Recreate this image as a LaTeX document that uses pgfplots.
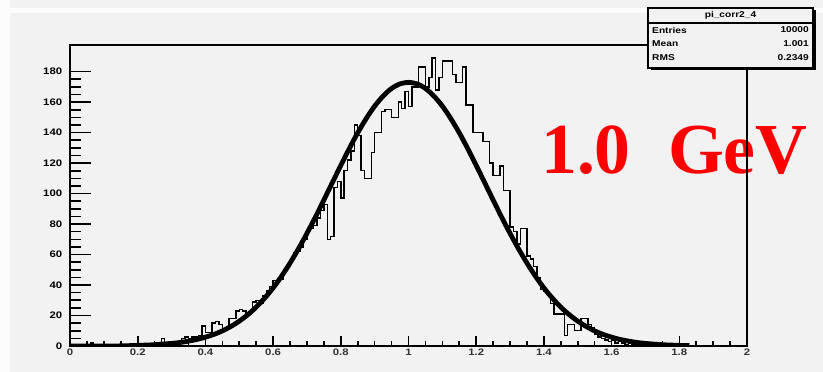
\documentclass[border=0pt]{standalone}
\usepackage{fontspec}
\setmainfont{Liberation Serif}
\setsansfont{Liberation Sans}
\usepackage{pgfplots}
\pgfplotsset{compat=1.18}
\definecolor{canvas}{HTML}{F2F2F2}
\definecolor{rootred}{HTML}{FF0000}
\begin{document}
\begin{tikzpicture}
\path[use as bounding box] (0bp,0bp) rectangle (823bp,372bp);
\begin{scope}[x=1bp,y=1bp]
\fill[white!99!black] (0,0) rectangle (823,372);
\fill[canvas] (10,0) rectangle (823,359);
\fill[canvas] (10,364) rectangle (823,372);
\node[anchor=base west, text=rootred, inner sep=0pt, font=\fontsize{72}{78}\selectfont\bfseries] at (541,199) {1.0\hspace{0.52em}GeV};
\end{scope}
\begin{axis}[
  at={(70bp,26bp)}, anchor=south west,
  width=677bp, height=301bp, scale only axis,
  xmin=0, xmax=2, ymin=0, ymax=197.5,
  axis line style={line width=1.4bp, black},
  tick align=inside, tick pos=left,
  xtick={0,0.2,0.4,0.6,0.8,1,1.2,1.4,1.6,1.8,2},
  xticklabels={0,0.2,0.4,0.6,0.8,1,1.2,1.4,1.6,1.8,2},
  ytick={0,20,40,60,80,100,120,140,160,180},
  minor x tick num=3, minor y tick num=3,
  every tick/.style={black, line width=1.6bp},
  major tick style={black, line width=1.6bp},
  minor tick style={black, line width=1.6bp},
  xtick style={/pgfplots/major tick length=10bp, /pgfplots/minor tick length=5bp},
  ytick style={/pgfplots/major tick length=21bp, /pgfplots/minor tick length=11bp},
  ticklabel style={font=\sffamily\bfseries\fontsize{9.5}{10}\selectfont, xscale=1.2},
  yticklabel style={xshift=-3bp},
  xticklabel style={yshift=1bp, text=black!80},
  /pgf/number format/assume math mode=true,
]
\addplot[const plot mark left, line width=1.4bp, black] table {
x y
0.00 0
0.03 1
0.04 0
0.06 2
0.07 0
0.11 1
0.12 0
0.16 1
0.17 0
0.19 1
0.20 0
0.21 1
0.22 0
0.23 1
0.24 0
0.25 1
0.26 2
0.27 5
0.28 2
0.29 1
0.30 2
0.31 2
0.32 3
0.33 5
0.34 6
0.35 5
0.36 6
0.37 6
0.38 7
0.39 13
0.40 9
0.41 9
0.42 15
0.43 16
0.44 14
0.45 11
0.46 12
0.47 18
0.48 18
0.49 23
0.50 24
0.51 23
0.52 21
0.53 22
0.54 29
0.55 30
0.56 28
0.57 33
0.58 36
0.59 39
0.60 43
0.61 43
0.62 44
0.63 50
0.64 52
0.65 56
0.66 61
0.67 62
0.68 65
0.69 70
0.70 76
0.71 77
0.72 79
0.73 84
0.74 89
0.75 93
0.76 70
0.77 72
0.78 104
0.79 108
0.80 97
0.81 115
0.82 122
0.83 128
0.84 145
0.85 138
0.86 115
0.87 110
0.88 110
0.89 127
0.90 140
0.91 140
0.92 154
0.93 155
0.94 155
0.95 150
0.96 150
0.97 160
0.98 156
0.99 167
1.00 157
1.01 170
1.02 170
1.03 183
1.04 183
1.05 170
1.06 176
1.07 189
1.08 168
1.09 176
1.10 187
1.11 187
1.12 187
1.13 178
1.14 173
1.15 173
1.16 183
1.17 158
1.18 158
1.19 140
1.20 140
1.21 140
1.22 134
1.23 134
1.24 120
1.25 112
1.26 112
1.27 118
1.28 102
1.29 102
1.30 78
1.31 75
1.32 67
1.33 77
1.34 77
1.35 59
1.36 57
1.37 52
1.38 45
1.39 37
1.40 36
1.41 33
1.42 28
1.43 21
1.44 21
1.45 21
1.46 7
1.47 14
1.48 14
1.49 10
1.50 10
1.51 18
1.52 18
1.53 14
1.54 12
1.55 8
1.56 6
1.57 5
1.58 4
1.59 3
1.60 4
1.61 2
1.62 3
1.63 2
1.64 1
1.65 2
1.66 1
1.67 1
1.68 0
1.69 1
1.70 0
1.72 1
1.73 0
1.76 1
1.77 0
1.80 1
1.81 0
2.00 0
};
\addplot[smooth, line width=4.8bp, black] coordinates {
(0.00,0) (0.10,0) (0.15,0.08) (0.20,0.41) (0.25,0.85) (0.30,1.7) (0.325,2.3)
(0.35,3.2) (0.375,4.3) (0.40,5.8) (0.425,7.6) (0.45,9.9) (0.475,12.8)
(0.50,16.3) (0.525,20.5) (0.55,25.5) (0.575,31.4) (0.60,38.1) (0.625,45.8)
(0.65,54.4) (0.675,63.8) (0.70,73.9) (0.725,84.6) (0.75,95.8) (0.775,107.2)
(0.80,118.5) (0.825,129.5) (0.85,139.9) (0.875,149.2) (0.90,157.4) (0.925,164.0)
(0.95,169.0) (0.975,172.0) (1.00,173.0) (1.025,172.0) (1.05,169.0) (1.075,164.0)
(1.10,157.4) (1.125,149.2) (1.15,139.9) (1.175,129.5) (1.20,118.5) (1.225,107.2)
(1.25,95.8) (1.275,84.6) (1.30,73.9) (1.325,63.8) (1.35,54.4) (1.375,45.8)
(1.40,38.1) (1.425,31.4) (1.45,25.5) (1.475,20.5) (1.50,16.3) (1.525,12.8)
(1.55,9.9) (1.575,7.6) (1.60,5.8) (1.625,4.3) (1.65,3.2) (1.675,2.3)
(1.70,1.7) (1.75,0.85) (1.80,0.41) (1.83,0.25)
};
\end{axis}
\begin{scope}[x=1bp,y=1bp]
\fill[black] (650.5,301.5) rectangle (815.5,361.5);
\filldraw[fill=canvas, draw=black, line width=1.2bp] (648,304) rectangle (813,364);
\draw[line width=1.2bp] (648,349) -- (813,349);
\begin{scope}[every node/.style={inner sep=0pt, xscale=1.2, font=\sffamily\bfseries\fontsize{8.5}{9}\selectfont}]
\node at (730.5,356.5) {pi\_corr2\_4};
\node[anchor=west] at (652,342) {Entries};
\node[anchor=east] at (809,342) {10000};
\node[anchor=west] at (652,328) {Mean};
\node[anchor=east] at (809,328) {1.001};
\node[anchor=west] at (652,314) {RMS};
\node[anchor=east] at (809,314) {0.2349};
\end{scope}
\end{scope}
\end{tikzpicture}
\end{document}
